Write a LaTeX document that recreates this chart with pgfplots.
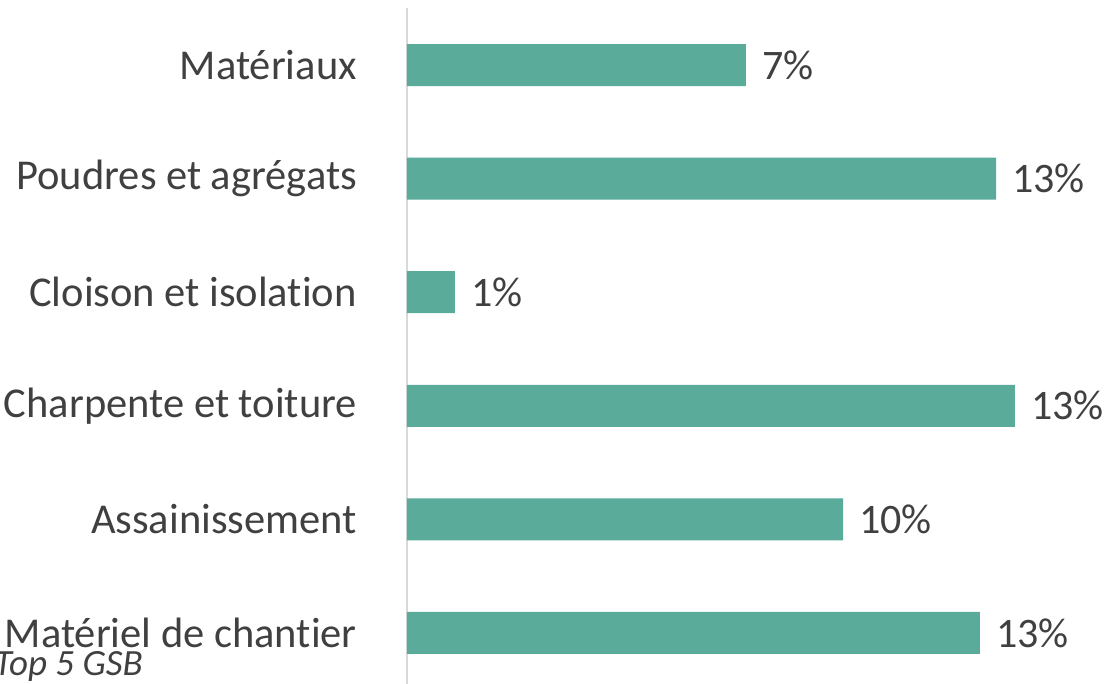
\documentclass[border=0pt]{standalone}
\usepackage{pgfplots}
\pgfplotsset{compat=1.18}
\usepackage{pgfplotstable}
\usepackage{fontspec}
\setmainfont{Carlito}[Ligatures={NoCommon}]
\definecolor{barc}{HTML}{5AAB9A}
\definecolor{txt}{HTML}{404040}
\definecolor{axc}{HTML}{D9D9D9}
\pgfplotstableread{
y val lab
0 12.44 13
1 9.47 10
2 13.2 13
3 1.04 1
4 12.79 13
5 7.36 7
}\datatable
\begin{document}
\begin{tikzpicture}
\useasboundingbox (-407pt,0pt) rectangle (707pt,684pt);
\begin{axis}[
  at={(0pt,0pt)}, anchor=south west,
  scale only axis, width=707pt, height=676pt,
  xmin=0, xmax=15.35, ymin=-0.449, ymax=5.502,
  xbar, bar width=42pt,
  axis lines*=left,
  x axis line style={draw=none},
  y axis line style={draw=axc, line width=1.5pt, -},
  xtick=\empty,
  ytick={0,1,2,3,4,5},
  yticklabels={Matériel de chantier, Assainissement, Charpente et toiture, Cloison et isolation, Poudres et agrégats, Matériaux},
  major tick length=0pt,
  yticklabel style={font=\fontsize{42.5}{42.5}\selectfont, text=txt, inner sep=0pt, xshift=-50pt},
  nodes near coords={\pgfplotspointmeta\%},
  point meta=explicit symbolic,
  nodes near coords style={font=\fontsize{42}{42}\selectfont, text=txt, inner sep=0pt, anchor=west, xshift=16pt},
  clip=false,
]
\addplot[fill=barc, draw=none] table[x=val, y=y, meta=lab] {\datatable};
\end{axis}
\node[anchor=base west, font=\itshape\fontsize{37}{37}\selectfont, text=txt, inner sep=0pt] at (-413pt,8pt) {Top 5 GSB};
\end{tikzpicture}
\end{document}
